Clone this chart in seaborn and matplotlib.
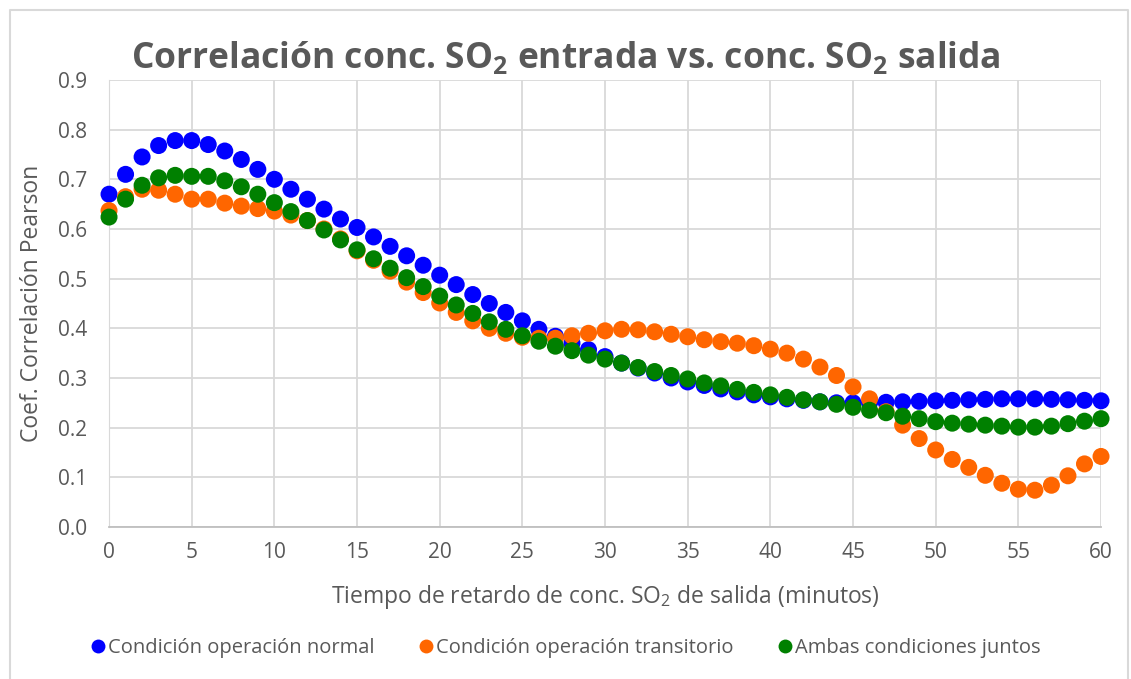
import numpy as np
import pandas as pd
import matplotlib
matplotlib.use("Agg")
import matplotlib.pyplot as plt
import seaborn as sns
from matplotlib.lines import Line2D

# retardo (minutos)
lag = list(range(0, 61))

normal = [0.670, 0.710, 0.745, 0.768, 0.778, 0.778, 0.770, 0.757, 0.740, 0.720,
          0.700, 0.680, 0.660, 0.640, 0.620, 0.603, 0.584, 0.565, 0.546, 0.527,
          0.507, 0.488, 0.468, 0.450, 0.432, 0.415, 0.398, 0.384, 0.370, 0.357,
          0.343, 0.330, 0.320, 0.310, 0.300, 0.292, 0.285, 0.278, 0.272, 0.266,
          0.262, 0.258, 0.255, 0.252, 0.250, 0.250, 0.250, 0.251, 0.252, 0.253,
          0.254, 0.255, 0.256, 0.257, 0.258, 0.258, 0.258, 0.257, 0.256, 0.255,
          0.254]

transitorio = [0.637, 0.665, 0.680, 0.678, 0.670, 0.660, 0.660, 0.652, 0.646, 0.641,
               0.636, 0.628, 0.617, 0.600, 0.580, 0.556, 0.537, 0.515, 0.493, 0.472,
               0.451, 0.432, 0.415, 0.400, 0.390, 0.382, 0.380, 0.380, 0.385, 0.390,
               0.395, 0.398, 0.397, 0.393, 0.388, 0.383, 0.377, 0.373, 0.370, 0.365,
               0.358, 0.350, 0.338, 0.322, 0.305, 0.282, 0.258, 0.232, 0.205, 0.178,
               0.155, 0.136, 0.120, 0.104, 0.088, 0.076, 0.074, 0.084, 0.103, 0.127,
               0.142]

ambas = [0.624, 0.660, 0.688, 0.703, 0.708, 0.706, 0.706, 0.697, 0.685, 0.670,
         0.653, 0.635, 0.617, 0.598, 0.578, 0.558, 0.540, 0.521, 0.502, 0.484,
         0.465, 0.447, 0.430, 0.413, 0.398, 0.385, 0.374, 0.364, 0.355, 0.346,
         0.338, 0.330, 0.321, 0.313, 0.305, 0.298, 0.290, 0.284, 0.277, 0.271,
         0.266, 0.261, 0.256, 0.252, 0.247, 0.241, 0.235, 0.230, 0.223, 0.218,
         0.212, 0.209, 0.207, 0.205, 0.203, 0.201, 0.201, 0.203, 0.208, 0.213,
         0.218]

labels = ["Condición operación normal", "Condición operación transitorio",
          "Ambas condiciones juntos"]
colors = ["#0000FF", "#FF6600", "#008000"]

df = pd.concat([
    pd.DataFrame({"lag": lag, "r": normal, "serie": labels[0]}),
    pd.DataFrame({"lag": lag, "r": transitorio, "serie": labels[1]}),
    pd.DataFrame({"lag": lag, "r": ambas, "serie": labels[2]}),
], ignore_index=True)

sns.set_style("white")
plt.rcParams["font.family"] = ["Open Sans", "DejaVu Sans"]
plt.rcParams["mathtext.fontset"] = "custom"
plt.rcParams["mathtext.rm"] = "Open Sans"
plt.rcParams["mathtext.bf"] = "Open Sans:bold"

gray = "#595959"

fig = plt.figure(figsize=(11.31, 6.79), dpi=100)
# chart border (open at the bottom, as in the screenshot)
fig.add_artist(Line2D([10 / 1131, 10 / 1131, 1128 / 1131, 1128 / 1131],
                      [0, 1 - 10 / 679, 1 - 10 / 679, 0],
                      transform=fig.transFigure, color="#d9d9d9", linewidth=1.5))
ax = fig.add_axes([0.0964, 0.2239, 0.8771, 0.6583])

sns.scatterplot(data=df, x="lag", y="r", hue="serie", hue_order=labels,
                palette=colors, s=150, edgecolor="none", linewidth=0,
                ax=ax, clip_on=False, zorder=3, legend=False)

ax.set_xlim(0, 60)
ax.set_ylim(0, 0.9)
ax.set_xticks(range(0, 61, 5))
ax.set_yticks(np.arange(0, 0.91, 0.1))
ax.set_yticklabels([f"{v:.1f}" for v in np.arange(0, 0.91, 0.1)])
ax.grid(True, color="#d9d9d9", linewidth=1.3)
ax.set_axisbelow(True)
for side in ["top", "right"]:
    ax.spines[side].set_visible(False)
ax.spines["left"].set_color("#d9d9d9")
ax.spines["bottom"].set_color("#bfbfbf")
ax.spines["bottom"].set_linewidth(1.3)
ax.tick_params(length=0, labelsize=15, labelcolor=gray)
ax.tick_params(axis="x", pad=11)
ax.tick_params(axis="y", pad=16)

ax.set_xlabel(r"Tiempo de retardo de conc. SO$_2$ de salida (minutos)",
              fontsize=16.5, color=gray, labelpad=14)
ax.set_ylabel("Coef. Correlación Pearson", fontsize=16.5, color=gray, labelpad=10)

fig.text(0.5, 0.914, r"Correlación conc. SO$_\mathbf{2}$ entrada vs. conc. SO$_\mathbf{2}$ salida",
         ha="center", va="center", fontsize=25.5, fontweight="bold", color=gray)

handles = [Line2D([], [], marker="o", linestyle="", markersize=10,
                  markerfacecolor=c, markeredgecolor="none") for c in colors]
fig.legend(handles, labels, loc="center", bbox_to_anchor=(0.5, 0.045), ncol=3,
           frameon=False, fontsize=14.5, handlelength=0.7, handletextpad=0.15,
           columnspacing=2.2, labelcolor=gray)

fig.savefig("out.png", dpi=100)
